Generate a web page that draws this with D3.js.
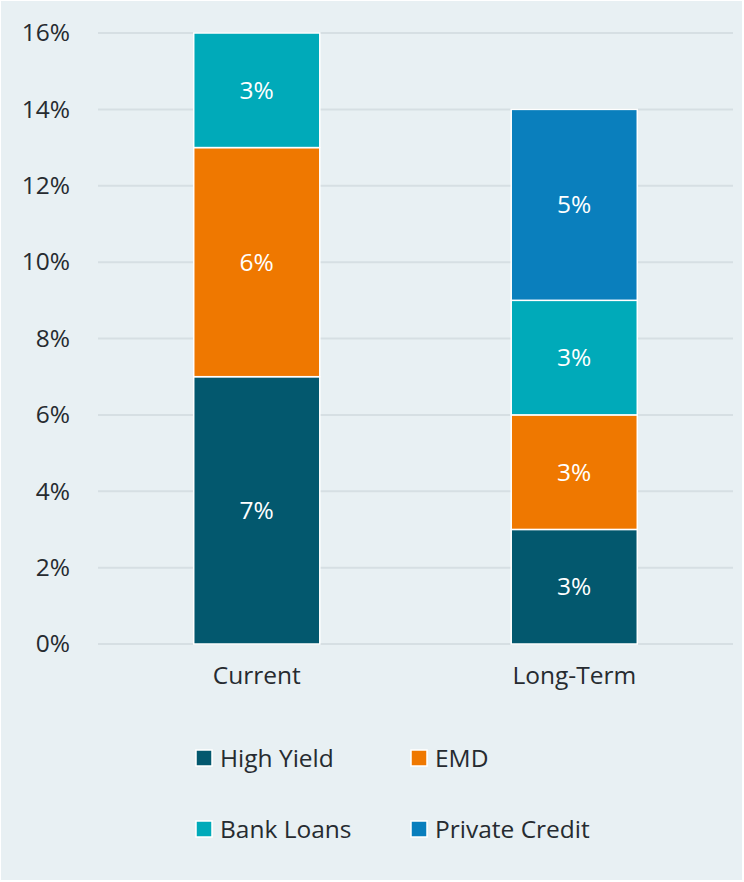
<!DOCTYPE html>
<html>
<head>
<meta charset="utf-8">
<script src="https://cdn.jsdelivr.net/npm/d3@7"></script>
<style>
  body { margin: 0; background: #fff; }
  svg { display: block; font-family: "Open Sans", "Noto Sans", sans-serif; }
</style>
</head>
<body>
<div class="chart"></div>
<script>
// chart data
const categories = ["Current", "Long-Term"];
const seriesNames = ["High Yield", "EMD", "Bank Loans", "Private Credit"];
const highYield = [7, 3];
const emd = [6, 3];
const bankLoans = [3, 3];
const privateCredit = [0, 5];
const yTicks = [0, 2, 4, 6, 8, 10, 12, 14, 16];

const colors = ["#03586e", "#ef7800", "#00aab9", "#0a7fbd"];
const fontSize = 24.5;

const width = 744, height = 882;
const margin = { top: 33, right: 11, bottom: 238, left: 98 };
const plotW = width - margin.left - margin.right;
const plotH = height - margin.top - margin.bottom;

let svg = d3.select(".chart")
  .append("svg")
    .attr("width", width)
    .attr("height", height);

svg.append("rect")
  .attr("x", 1).attr("y", 1)
  .attr("width", width - 3).attr("height", height - 3)
  .attr("fill", "#e8f0f3");

let chart = svg.append("g")
  .attr("transform", "translate(" + margin.left + "," + margin.top + ")");

// build stacked rows from the series arrays
let rows = categories.map((c, i) => ({
  cat: c,
  "High Yield": highYield[i],
  "EMD": emd[i],
  "Bank Loans": bankLoans[i],
  "Private Credit": privateCredit[i]
}));
let stacked = d3.stack().keys(seriesNames)(rows);

let x = d3.scaleBand()
  .domain(categories)
  .range([0, plotW])
  .paddingInner(0.603)
  .paddingOuter(0.3015);

let y = d3.scaleLinear()
  .domain([0, 16])
  .range([plotH, 0]);

// gridlines
chart.append("g")
  .selectAll("line")
  .data(yTicks)
  .join("line")
    .attr("x1", 0).attr("x2", plotW)
    .attr("y1", d => y(d)).attr("y2", d => y(d))
    .attr("stroke", "#d6dfe3")
    .attr("stroke-width", 2);

// y axis labels
let yAxis = chart.append("g")
  .call(d3.axisLeft(y).tickValues(yTicks).tickFormat(d => d + "%").tickSize(0).tickPadding(28));
yAxis.select(".domain").remove();
yAxis.selectAll("text")
  .attr("font-size", fontSize)
  .attr("font-family", "'Open Sans', sans-serif")
  .attr("fill", "#262b30");

// x axis labels
let xAxis = chart.append("g")
  .attr("transform", "translate(0," + plotH + ")")
  .call(d3.axisBottom(x).tickSize(0).tickPadding(23));
xAxis.select(".domain").remove();
xAxis.selectAll("text")
  .attr("font-size", fontSize)
  .attr("font-family", "'Open Sans', sans-serif")
  .attr("fill", "#262b30");

// bars
let layers = chart.append("g")
  .selectAll("g")
  .data(stacked)
  .join("g")
    .attr("fill", (d, i) => colors[i]);

layers.selectAll("rect")
  .data(d => d.filter(s => s[1] - s[0] > 0).map(s => ({ s: s, cat: s.data.cat })))
  .join("rect")
    .attr("x", d => x(d.cat))
    .attr("y", d => y(d.s[1]))
    .attr("width", x.bandwidth())
    .attr("height", d => y(d.s[0]) - y(d.s[1]))
    .attr("stroke", "#ffffff")
    .attr("stroke-width", 1.5);

layers.selectAll("text")
  .data(d => d.filter(s => s[1] - s[0] > 0).map(s => ({ s: s, cat: s.data.cat })))
  .join("text")
    .attr("x", d => x(d.cat) + x.bandwidth() / 2)
    .attr("y", d => y((d.s[0] + d.s[1]) / 2))
    .attr("dy", "0.35em")
    .attr("text-anchor", "middle")
    .attr("font-size", fontSize)
    .attr("fill", "#ffffff")
    .text(d => (d.s[1] - d.s[0]) + "%");

// legend
let legendPos = [[196, 758], [411, 758], [196, 829], [411, 829]];
let legend = svg.append("g")
  .selectAll("g")
  .data(seriesNames)
  .join("g")
    .attr("transform", (d, i) => "translate(" + legendPos[i][0] + "," + legendPos[i][1] + ")");

legend.append("rect")
  .attr("x", 0).attr("y", -8)
  .attr("width", 16).attr("height", 16)
  .attr("fill", (d, i) => colors[i])
  .attr("stroke", "#ffffff")
  .attr("stroke-width", 1.5);

legend.append("text")
  .attr("x", 24)
  .attr("dy", "0.35em")
  .attr("font-size", fontSize)
  .attr("fill", "#262b30")
  .text(d => d);
</script>
</body>
</html>
